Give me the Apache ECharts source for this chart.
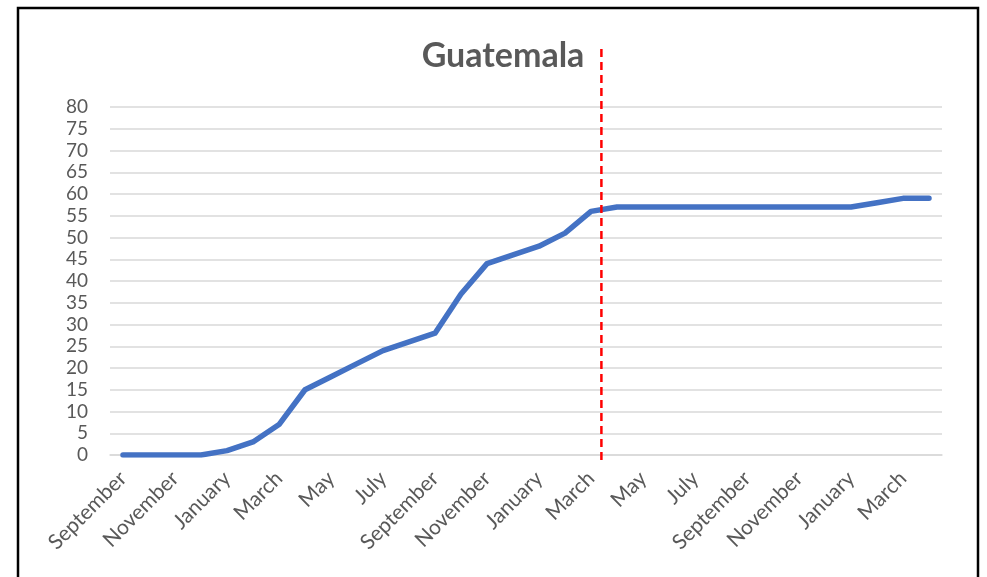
<!DOCTYPE html>
<html>
<head>
<meta charset="utf-8">
<script src="https://cdn.jsdelivr.net/npm/echarts@6/dist/echarts.min.js"></script>
<style>
html,body{margin:0;padding:0;background:#fff;}
#chart{width:987px;height:577px;}
</style>
</head>
<body>
<div id="chart"></div>
<script>
const title = "Guatemala";
const months = ["September","October","November","December","January","February","March","April","May","June","July","August",
  "September","October","November","December","January","February","March","April","May","June","July","August",
  "September","October","November","December","January","February","March","April"];
const values = [0,0,0,0,1,3,7,15,18,21,24,26,28,37,44,46,48,51,56,57,57,57,57,57,57,57,57,57,57,58,59,59];
// position of the dashed divider, in category units (0 = left edge of first band)
const dividerAt = [18.9];
const yTicks = [0,5,10,15,20,25,30,35,40,45,50,55,60,65,70,75,80];

const font = "Lato, 'Open Sans', sans-serif";
const chart = echarts.init(document.getElementById('chart'), null, {renderer:'canvas'});
chart.setOption({
  animation:false,
  backgroundColor:'#fff',
  title:{text:title,left:498,textAlign:'center',top:34,
    textStyle:{fontFamily:font,fontSize:34,fontWeight:'bold',color:'#595959'}},
  graphic:[{type:'rect',shape:{x:18,y:8,width:960,height:620},
    style:{fill:null,stroke:'#000',lineWidth:2.5},z:100}],
  grid:[
    {left:110,right:45,top:107,bottom:122},
    {left:110,right:45,top:47,bottom:117}
  ],
  xAxis:[
    {type:'category',data:months,boundaryGap:true,gridIndex:0,
      axisTick:{show:false},
      axisLine:{lineStyle:{color:'#d9d9d9',width:1.5}},
      axisLabel:{interval:1,rotate:45,margin:20,fontFamily:font,fontSize:21,color:'#595959'}},
    {type:'value',gridIndex:1,min:0,max:months.length,show:false}
  ],
  yAxis:[
    {type:'value',min:yTicks[0],max:yTicks[yTicks.length-1],interval:5,gridIndex:0,
      axisLine:{show:false},axisTick:{show:false},
      axisLabel:{margin:22,fontFamily:font,fontSize:19,color:'#595959'},
      splitLine:{lineStyle:{color:'#d9d9d9',width:1.5}}},
    {type:'value',gridIndex:1,min:0,max:1,show:false}
  ],
  series:[
    {type:'line',data:values,xAxisIndex:0,yAxisIndex:0,symbol:'none',
      lineStyle:{color:'#4472C4',width:5.5,cap:'round',join:'round'},z:5},
    {type:'line',xAxisIndex:1,yAxisIndex:1,symbol:'none',
      data:[[dividerAt[0],0],[dividerAt[0],1]],
      lineStyle:{color:'#FF0000',width:2.5,type:[8,5]},z:6}
  ]
});
</script>
</body>
</html>
